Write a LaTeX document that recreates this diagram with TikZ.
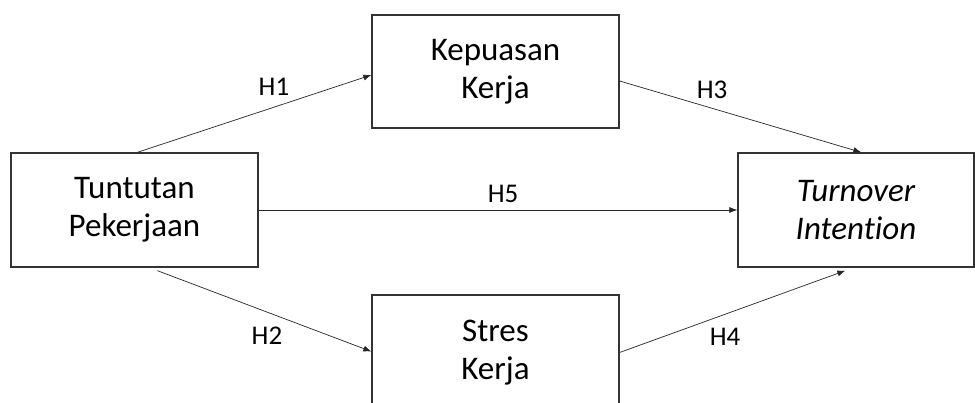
\documentclass[tikz,border=0pt]{standalone}
\usepackage{fontspec}
\setmainfont[Ligatures=NoCommon]{Carlito}
\usetikzlibrary{arrows.meta,calc}
\begin{document}
\begin{tikzpicture}[x=1pt,y=-1pt,
  box/.style={draw=black!80, line width=1.3pt, rectangle, align=center, inner sep=0pt,
    font=\fontsize{33}{38}\selectfont, fill=white},
  conn/.style={draw=black!85, line width=0.7pt, -{Latex[length=8pt,width=6pt]}},
  lbl/.style={font=\fontsize{27}{30}\selectfont, inner sep=0pt}]
\useasboundingbox (0,0) rectangle (975,403);
\clip (0,0) rectangle (975,403);
\fill[white] (0,0) rectangle (975,403);
\node[box, minimum width=247pt, minimum height=114pt] (A) at (134.5,210) {Tuntutan\\Pekerjaan};
\node[box, minimum width=247pt, minimum height=113pt] (K) at (495.5,71.5) {Kepuasan\\Kerja};
\node[box, minimum width=247pt, minimum height=116pt] (S) at (495.5,353) {Stres\\Kerja};
\node[box, minimum width=236pt, minimum height=114pt] (T) at (856,210) {\itshape Turnover\\\itshape Intention};
\draw[conn] ([xshift=127pt]A.north west) -- ([yshift=-3.5pt]K.west);
\draw[conn] ([yshift=-9.5pt]K.east) -- ([xshift=124pt]T.north west);
\draw[conn] (A.east) -- (T.west);
\draw[conn] ([xshift=147pt,yshift=-3pt]A.south west) -- ([yshift=1.5pt]S.west);
\draw[conn] ([yshift=0.5pt]S.east) -- ([xshift=108pt,yshift=-3pt]T.south west);
\node[lbl] (h1) at (274,87) {H1};
\node[lbl] (h3) at (712,90) {H3};
\node[lbl] (h5) at (503,194) {H5};
\node[lbl] (h2) at (267,336) {H2};
\node[lbl] (h4) at (725,337) {H4};
\end{tikzpicture}
\end{document}
